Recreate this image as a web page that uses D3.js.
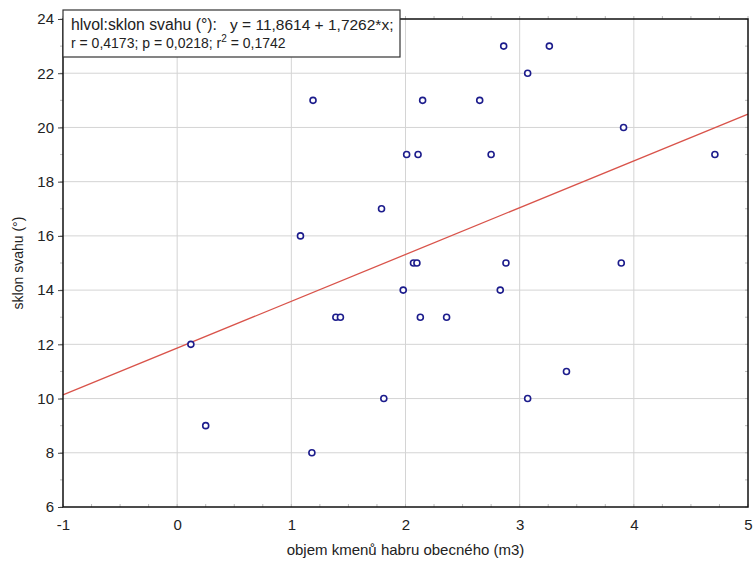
<!DOCTYPE html>
<html>
<head>
<meta charset="utf-8">
<script src="https://cdn.jsdelivr.net/npm/d3@7"></script>
<style>
  body { margin: 0; background: #fff; }
  svg { display: block; font-family: "Liberation Sans", Arial, sans-serif; }
</style>
</head>
<body>
<svg id="chart" width="753" height="563"></svg>
<script>
// ---- data ----
const xValues = [0.12, 0.25, 1.08, 1.19, 1.18, 1.39, 1.43, 1.79, 1.81, 1.98,
                 2.01, 2.07, 2.10, 2.11, 2.13, 2.15, 2.36, 2.65, 2.75, 2.83,
                 2.86, 2.88, 3.07, 3.07, 3.26, 3.41, 3.89, 3.91, 4.71];
const yValues = [12, 9, 16, 21, 8, 13, 13, 17, 10, 14,
                 19, 15, 15, 19, 13, 21, 13, 21, 19, 14,
                 23, 15, 22, 10, 23, 11, 15, 20, 19];
const xTicks = [-1, 0, 1, 2, 3, 4, 5];
const yTicks = [6, 8, 10, 12, 14, 16, 18, 20, 22, 24];
const xDomain = [-1, 5];
const yDomain = [6, 24];
const intercept = 11.8614;
const slope = 1.7262;
const legendLine1a = "hlvol:sklon svahu (°):";
const legendLine1b = "y = 11,8614 + 1,7262*x;";
const legendLine2a = "r = 0,4173; p = 0,0218; r";
const legendLine2b = " = 0,1742";
const xTitle = "objem kmenů habru obecného (m3)";
const yTitle = "sklon svahu (°)";

// ---- layout ----
const pL = 63, pR = 748, pT = 19, pB = 507;
const svg = d3.select("#chart");
const x = d3.scaleLinear().domain(xDomain).range([pL, pR]);
const y = d3.scaleLinear().domain(yDomain).range([pB, pT]);
const fmt = d => String(d);

// gridlines
svg.append("g").selectAll("line").data(xTicks.slice(1, -1)).join("line")
  .attr("x1", d => x(d)).attr("x2", d => x(d))
  .attr("y1", pT).attr("y2", pB)
  .attr("stroke", "#d4d4d4").attr("stroke-width", 1);
svg.append("g").selectAll("line").data(yTicks.slice(1, -1)).join("line")
  .attr("x1", pL).attr("x2", pR)
  .attr("y1", d => y(d)).attr("y2", d => y(d))
  .attr("stroke", "#d4d4d4").attr("stroke-width", 1);

// minor ticks (faint)
const xMinor = d3.range(xDomain[0], xDomain[1] + 0.001, 0.25);
const yMinor = d3.range(yDomain[0], yDomain[1] + 0.001, 1);
const minorG = svg.append("g").attr("stroke", "#bbb").attr("stroke-width", 1);
minorG.selectAll(".mb").data(xMinor).join("line").attr("class", "mb")
  .attr("x1", d => x(d)).attr("x2", d => x(d)).attr("y1", pB).attr("y2", pB - 3);
minorG.selectAll(".mt").data(xMinor).join("line").attr("class", "mt")
  .attr("x1", d => x(d)).attr("x2", d => x(d)).attr("y1", pT).attr("y2", pT - 3);
minorG.selectAll(".ml").data(yMinor).join("line").attr("class", "ml")
  .attr("x1", pL).attr("x2", pL - 3).attr("y1", d => y(d)).attr("y2", d => y(d));
minorG.selectAll(".mr").data(yMinor).join("line").attr("class", "mr")
  .attr("x1", pR).attr("x2", pR - 3).attr("y1", d => y(d)).attr("y2", d => y(d));

// regression line
svg.append("line")
  .attr("x1", x(xDomain[0])).attr("y1", y(intercept + slope * xDomain[0]))
  .attr("x2", x(xDomain[1])).attr("y2", y(intercept + slope * xDomain[1]))
  .attr("stroke", "#d9534a").attr("stroke-width", 1.3);

// points
svg.append("g").selectAll("circle").data(xValues.map((v, i) => [v, yValues[i]])).join("circle")
  .attr("cx", d => x(d[0])).attr("cy", d => y(d[1])).attr("r", 3)
  .attr("fill", "#fff").attr("stroke", "#1c1c8c").attr("stroke-width", 1.6);

// axes
const xAxis = d3.axisBottom(x).tickValues(xTicks).tickSize(0).tickPadding(12).tickFormat(fmt);
const yAxis = d3.axisLeft(y).tickValues(yTicks).tickSize(5).tickPadding(4).tickFormat(fmt);
const gx = svg.append("g").attr("transform", `translate(0,${pB})`).call(xAxis);
const gy = svg.append("g").attr("transform", `translate(${pL},0)`).call(yAxis);
[gx, gy].forEach(g => {
  g.select(".domain").remove();
  g.selectAll("text").attr("font-size", 15).attr("fill", "#222")
    .attr("font-family", "Liberation Sans, Arial, sans-serif");
  g.selectAll("line").attr("stroke", "#444");
});

// frame
svg.append("rect").attr("x", pL).attr("y", pT).attr("width", pR - pL).attr("height", pB - pT)
  .attr("fill", "none").attr("stroke", "#111").attr("stroke-width", 1.5);

// legend box
const lg = svg.append("g");
lg.append("rect").attr("x", pL).attr("y", 10).attr("width", 337).attr("height", 47)
  .attr("fill", "#fff").attr("stroke", "#333").attr("stroke-width", 1.2);
const t1 = lg.append("text").attr("y", 30).attr("fill", "#222");
t1.append("tspan").attr("x", 71).attr("font-size", 15.8).text(legendLine1a);
t1.append("tspan").attr("x", 230).attr("font-size", 15.5).text(legendLine1b);
const t2 = lg.append("text").attr("x", 71).attr("y", 48).attr("font-size", 14).attr("fill", "#222");
t2.append("tspan").text(legendLine2a);
t2.append("tspan").attr("dy", -6).attr("font-size", 10).text("2");
t2.append("tspan").attr("dy", 6).text(legendLine2b);

// axis titles
svg.append("text").attr("x", (pL + pR) / 2).attr("y", 555).attr("text-anchor", "middle")
  .attr("font-size", 15).attr("fill", "#222").text(xTitle);
svg.append("text").attr("transform", `translate(23,${(pT + pB) / 2}) rotate(-90)`)
  .attr("text-anchor", "middle").attr("font-size", 14).attr("fill", "#222").text(yTitle);
</script>
</body>
</html>
